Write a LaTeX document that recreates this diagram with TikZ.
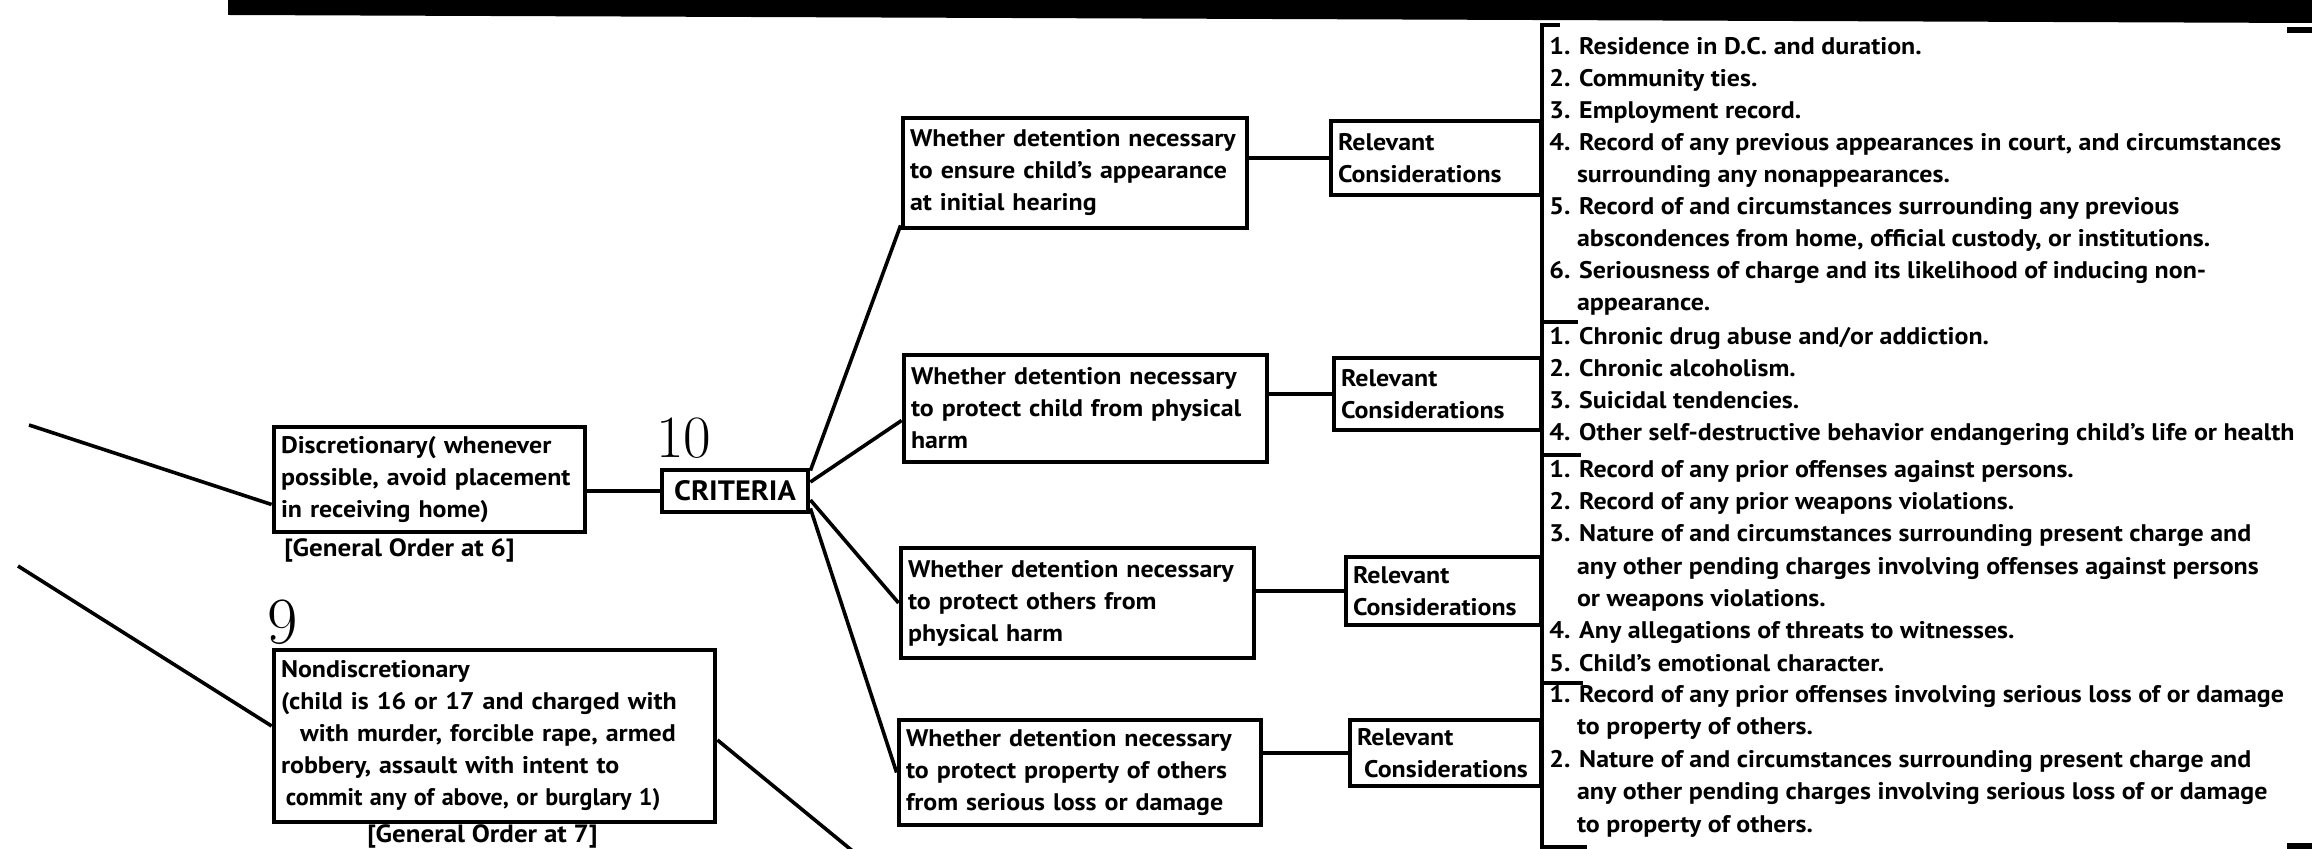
\documentclass[tikz,border=0pt]{standalone}
\usepackage{fontspec}
\newfontfamily\lab{PT Sans}[FakeStretch=1.08]
\newfontfamily\numfont{Latin Modern Roman}
\usetikzlibrary{calc}
\newcommand\txt{\lab\bfseries\fontsize{12}{16}\selectfont}

\begin{document}
\begin{tikzpicture}[x=0.5pt,y=-0.5pt,
  box/.style={draw, line width=2.4pt, inner xsep=3.5pt, inner ysep=0pt, align=left, font=\txt},
  conn/.style={line width=1.8pt},
  item/.style={anchor=base west, inner sep=0pt, font=\txt},
  bignum/.style={anchor=base west, inner sep=0pt, font=\numfont\fontsize{30}{30}\selectfont},
  ref/.style={anchor=base west, inner sep=0pt, font=\lab\bfseries\fontsize{12.5}{14}\selectfont}]
\useasboundingbox (0,0) rectangle (2312,849);

% heavy rule across the top and the two edge marks
\fill (228,0) -- (2312,0) -- (2312,23) -- (228,15) -- cycle;
\draw[line width=3pt] (2287,30) -- (2312,30);
\draw[line width=3pt] (2287,846) -- (2312,846);

% placement boxes
\node[box, minimum width=155.5pt, minimum height=52.5pt, text width=148.5pt] (disc) at (429.5,479.5)
  {Discretionary( whenever\\\mbox{possible, avoid placement}\\in receiving home)};
\node[ref] (go6) at (284,557) {[General Order at 6]};
\node[box, minimum width=220.5pt, minimum height=86pt, text width=213.5pt] (nond) at (494.5,736)
  {Nondiscretionary\\\mbox{(child is 16 or 17 and charged with}\\
   \mbox{\hspace*{0.8em}with murder, forcible rape, armed}\\robbery, assault with intent to\\
   \mbox{\hspace*{0.2em}\scalebox{0.93}[1]{commit any of above, or burglary 1)}}};
\node[ref] (go7) at (367,842) {[General Order at 7]};
\node[bignum, font=\numfont\fontsize{33}{33}\selectfont] (n9) at (267,643) {9};
\node[bignum] (n10) at (656,458) {10};

% criteria
\node[box, minimum width=73pt, minimum height=21pt, inner xsep=2pt, align=center,
  font=\lab\bfseries\fontsize{14}{14}\selectfont] (crit) at (735,491) {CRITERIA};

% the four questions
\node[box, minimum width=172pt, minimum height=55pt, text width=165pt] (qa) at (1075,173)
  {\mbox{Whether detention necessary}\\to ensure child’s appearance\\at initial hearing};
\node[box, minimum width=181.5pt, minimum height=53.5pt, text width=174.5pt] (qb) at (1085.5,408.5)
  {Whether detention necessary\\\mbox{to protect child from physical}\\harm};
\node[box, minimum width=176.5pt, minimum height=55pt, text width=169.5pt] (qc) at (1077.5,603)
  {Whether detention necessary\\to protect others from\\physical harm};
\node[box, minimum width=181pt, minimum height=52.5pt, text width=174pt] (qd) at (1080,772.5)
  {Whether detention necessary\\to protect property of others\\from serious loss or damage};

% relevant considerations
\node[box, minimum width=105pt, minimum height=37pt, text width=98pt] (rc1) at (1436,158) {Relevant\\Considerations};
\node[box, minimum width=103.5pt, minimum height=36pt, text width=96.5pt] (rc2) at (1437.5,394) {Relevant\\Considerations};
\node[box, minimum width=97.5pt, minimum height=34pt, text width=90.5pt] (rc3) at (1443.5,591) {Relevant\\Considerations};
\node[box, minimum width=95.5pt, minimum height=33pt, text width=88.5pt] (rc4) at (1445.5,753) {Relevant\\\hspace*{0.3em}Considerations};

% connectors
\coordinate (inA) at (29,425);
\coordinate (inB) at (18,566);
\coordinate (outC) at (866,862);
\draw[conn] (inA) -- ($(disc.west)+(0,25)$);
\draw[conn] (inB) -- ($(nond.west)+(0,-10)$);
\draw[conn] ($(nond.east)+(0,4)$) -- (outC);
\draw[conn] (crit.west) -- (crit.west -| disc.east);
\draw[conn] ($(crit.north east)+(0,3)$) -- ($(qa.south west)+(0,-5)$);
\draw[conn] ($(crit.east)+(0,-9)$) -- ($(qb.west)+(0,12)$);
\draw[conn] ($(crit.east)+(0,9)$) -- (qc.west);
\draw[conn] ($(crit.south east)+(0,-6)$) -- (qd.west);
\draw[conn] (rc1.west) -- (rc1.west -| qa.east);
\draw[conn] (rc2.west) -- (rc2.west -| qb.east);
\draw[conn] (rc3.west) -- (rc3.west -| qc.east);
\draw[conn] (rc4.west) -- (rc4.west -| qd.east);

% bracket holding the lists
\coordinate (bt) at (1560,25);
\coordinate (bb) at (1587,847);
\draw[line width=2.2pt] (bt) -- (1542,25) -- (1542,847) -- (bb);
\draw[line width=2pt] (1542,322) -- (1578,322);
\draw[line width=2pt] (1542,455) -- (1581,455);
\draw[line width=2pt] (1542,683) -- (1583,683);

% lists of considerations
\foreach \t [count=\i] in {
  {1. Residence in D.C. and duration.},
  {2. Community ties.},
  {3. Employment record.},
  {4. Record of any previous appearances in court, and circumstances},
  {\phantom{4.\ }surrounding any nonappearances.},
  {5. Record of and circumstances surrounding any previous},
  {\phantom{4.\ }abscondences from home, official custody, or institutions.},
  {6. Seriousness of charge and its likelihood of inducing non-},
  {\phantom{4.\ }appearance.}}
  \node[item] (ga\i) at (1549,{23+32*\i}) {\t};
\foreach \t [count=\i] in {
  {1. Chronic drug abuse and/or addiction.},
  {2. Chronic alcoholism.},
  {3. Suicidal tendencies.},
  {4. Other self-destructive behavior endangering child’s life or health}}
  \node[item] (gb\i) at (1549,{313+32*\i}) {\t};
\foreach \t [count=\i] in {
  {1. Record of any prior offenses against persons.},
  {2. Record of any prior weapons violations.},
  {3. Nature of and circumstances surrounding present charge and},
  {\phantom{4.\ }any other pending charges involving offenses against persons},
  {\phantom{4.\ }or weapons violations.},
  {4. Any allegations of threats to witnesses.},
  {5. Child’s emotional character.}}
  \node[item] (gc\i) at (1549,{445+32.3*\i}) {\t};
\foreach \t [count=\i] in {
  {1. Record of any prior offenses involving serious loss of or damage},
  {\phantom{4.\ }to property of others.},
  {2. Nature of and circumstances surrounding present charge and},
  {\phantom{4.\ }any other pending charges involving serious loss of or damage},
  {\phantom{4.\ }to property of others.}}
  \node[item] (gd\i) at (1549,{670+32.4*\i}) {\t};
\end{tikzpicture}
\end{document}
